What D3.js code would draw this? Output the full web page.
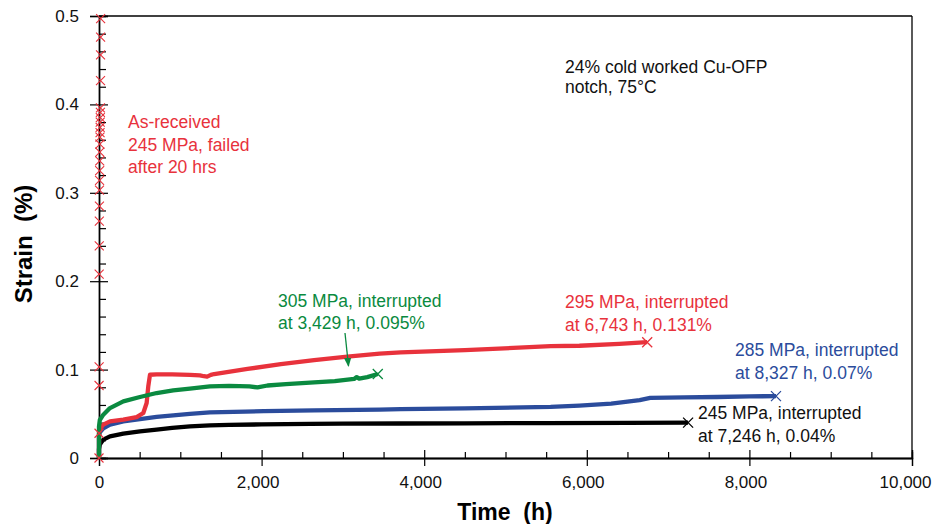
<!DOCTYPE html>
<html>
<head>
<meta charset="utf-8">
<script src="https://cdn.jsdelivr.net/npm/d3@7"></script>
<style>
  body { margin: 0; background: #fff; }
  svg { font-family: "Liberation Sans", Arial, sans-serif; }
  .ann { font-size: 17.5px; }
</style>
</head>
<body>
<div id="chart"></div>
<script>
// tick values
const xMajorTicks = [0, 2000, 4000, 6000, 8000, 10000];
const xMinorTicks = d3.range(0, 10001, 500).filter(d => d % 2000 !== 0);
const yMajorTicks = [0, 0.1, 0.2, 0.3, 0.4, 0.5];
const yMinorTicks = d3.range(0, 0.5001, 0.02).filter(d => Math.round(d * 100) % 10 !== 0);

// as-received, 245 MPa, failed after 20 h (markers only)
const asRecTime = [0, 0.5, 1, 1.5, 2, 3, 4, 5, 6, 7, 8, 9, 10, 11, 12, 13, 14, 15, 16, 17, 17.5, 18.5, 19, 19.5, 20];
const asRecStrain = [0, 0.028, 0.082, 0.103, 0.208, 0.240, 0.268, 0.285, 0.303, 0.314, 0.325, 0.336, 0.346,
                     0.355, 0.363, 0.368, 0.374, 0.380, 0.385, 0.391, 0.396, 0.427, 0.456, 0.476, 0.497];

// 245 MPa, interrupted at 7,246 h
const t245 = [0, 0, 10, 30, 53, 135, 299, 504, 709, 900, 1118, 1364, 1600, 2000, 2600, 3000, 3700, 4500, 5500, 6500, 7246];
const s245 = [0, 0.010, 0.015, 0.018, 0.0207, 0.0245, 0.0275, 0.030, 0.032, 0.034, 0.0357, 0.037, 0.0375, 0.038,
              0.0385, 0.0388, 0.039, 0.0392, 0.0395, 0.0398, 0.040];

// 285 MPa, interrupted at 8,327 h
const t285 = [0, 0, 10, 53, 135, 299, 504, 709, 1118, 1364, 1800, 2028, 2646, 3452, 3712, 4500, 5555, 5909, 6300,
              6650, 6780, 7200, 7603, 8000, 8327];
const s285 = [0, 0.0245, 0.029, 0.0336, 0.0377, 0.0414, 0.0441, 0.0464, 0.0498, 0.0516, 0.0525, 0.053, 0.0538,
              0.0548, 0.0552, 0.0562, 0.0578, 0.0592, 0.0615, 0.0655, 0.068, 0.0685, 0.069, 0.0697, 0.070];

// 295 MPa, interrupted at 6,743 h
const t295 = [0, 0, 10, 53, 135, 299, 463, 545, 586, 606, 627, 709, 900, 1118, 1241, 1290, 1330, 1376, 1417, 1827,
              2237, 2646, 3056, 3452, 3712, 4500, 5555, 5909, 6400, 6743];
const s295 = [0, 0.028, 0.033, 0.0377, 0.0414, 0.0433, 0.0463, 0.0509, 0.0622, 0.081, 0.0942, 0.0945, 0.0945,
              0.094, 0.0935, 0.0925, 0.092, 0.094, 0.095, 0.1007, 0.1063, 0.1108, 0.1146, 0.118, 0.1195, 0.122,
              0.1265, 0.127, 0.129, 0.131];

// 305 MPa, interrupted at 3,429 h
const t305 = [0, 0, 10, 53, 135, 299, 504, 709, 913, 1118, 1364, 1600, 1850, 1950, 2073, 2300, 2646, 2900, 3138,
              3170, 3200, 3300, 3429];
const s305 = [0, 0.0357, 0.043, 0.049, 0.0565, 0.064, 0.069, 0.0735, 0.0765, 0.0785, 0.081, 0.0815, 0.081, 0.0798,
              0.082, 0.0835, 0.0855, 0.087, 0.0894, 0.0915, 0.0898, 0.0915, 0.095];

const RED = "#e8323c", GREEN = "#0a8a40", BLUE = "#2b4c9c", BLACK = "#000";

const series = [
    {t: t245, s: s245, color: BLACK},
    {t: t285, s: s285, color: BLUE},
    {t: t295, s: s295, color: RED},
    {t: t305, s: s305, color: GREEN}
];

const width = 932, height = 524;
const svg = d3.select("#chart").append("svg")
    .attr("width", width)
    .attr("height", height);

const x = d3.scaleLinear().domain([0, 10000]).range([99, 912]);
const y = d3.scaleLinear().domain([0, 0.5]).range([458, 16]);

// frame (top and right)
svg.append("line").attr("x1", x(0)).attr("x2", x(10000)).attr("y1", y(0.5)).attr("y2", y(0.5))
    .attr("stroke", "#000").attr("stroke-width", 1.3);
svg.append("line").attr("x1", x(10000)).attr("x2", x(10000)).attr("y1", y(0.5)).attr("y2", y(0))
    .attr("stroke", "#000").attr("stroke-width", 1.3);

function styleAxis(g) {
    g.select(".domain").attr("stroke-width", 1.3);
    g.selectAll(".tick line").attr("stroke-width", 1.2);
    g.selectAll("text").attr("font-size", 17).attr("font-family", "Liberation Sans, Arial, sans-serif").attr("fill", "#111");
}

// x axis: major ticks crossing, minor ticks inside
svg.append("g").attr("transform", `translate(0,${y(0)})`)
    .call(d3.axisBottom(x).tickValues(xMajorTicks).tickSize(8).tickPadding(10)
        .tickFormat(d => d === 0 ? "0" : d3.format(",")(d)))
    .call(styleAxis)
    .call(g => g.selectAll(".tick text").attr("dx", d => d === 0 ? 0 : d === 10000 ? -7 : -4));
svg.append("g").attr("transform", `translate(0,${y(0)})`)
    .call(d3.axisTop(x).tickValues(xMajorTicks).tickSize(8).tickFormat(""))
    .call(styleAxis);
svg.append("g").attr("transform", `translate(0,${y(0)})`)
    .call(d3.axisTop(x).tickValues(xMinorTicks).tickSize(6).tickFormat(""))
    .call(styleAxis);

// y axis
svg.append("g").attr("transform", `translate(${x(0)},0)`)
    .call(d3.axisLeft(y).tickValues(yMajorTicks).tickSize(9).tickPadding(11)
        .tickFormat(d => d === 0 ? "0" : d3.format(".1f")(d)))
    .call(styleAxis);
svg.append("g").attr("transform", `translate(${x(0)},0)`)
    .call(d3.axisRight(y).tickValues(yMajorTicks).tickSize(9).tickFormat(""))
    .call(styleAxis);
svg.append("g").attr("transform", `translate(${x(0)},0)`)
    .call(d3.axisRight(y).tickValues(yMinorTicks).tickSize(7).tickFormat(""))
    .call(styleAxis);

// axis titles
svg.append("text")
    .attr("x", 505).attr("y", 520)
    .attr("text-anchor", "middle")
    .attr("font-size", 23).attr("font-weight", "bold")
    .style("white-space", "pre")
    .text("Time  (h)");
svg.append("text")
    .attr("transform", "translate(32,244) rotate(-90)")
    .attr("text-anchor", "middle")
    .attr("font-size", 24).attr("font-weight", "bold")
    .style("white-space", "pre")
    .text("Strain  (%)");

// curves
const line = d3.line()
    .x(d => x(d[0]))
    .y(d => y(d[1]));

const crossPath = r => `M${-r},${-r}L${r},${r}M${-r},${r}L${r},${-r}`;

series.forEach(sr => {
    const pts = sr.t.map((t, i) => [t, sr.s[i]]);
    svg.append("path")
        .datum(pts)
        .attr("d", line)
        .attr("fill", "none")
        .attr("stroke", sr.color)
        .attr("stroke-width", 4.3)
        .attr("stroke-linejoin", "round");
    const last = pts[pts.length - 1];
    svg.append("path")
        .attr("transform", `translate(${x(last[0])},${y(last[1])})`)
        .attr("d", crossPath(5))
        .attr("stroke", sr.color)
        .attr("stroke-width", 1.3)
        .attr("fill", "none");
});

// as-received markers
svg.append("g")
    .selectAll("path")
    .data(asRecTime.map((t, i) => [t, asRecStrain[i]]))
    .join("path")
    .attr("transform", d => `translate(${x(d[0])},${y(d[1])})`)
    .attr("d", crossPath(4.5))
    .attr("stroke", RED)
    .attr("stroke-width", 1.1)
    .attr("fill", "none");

// annotations
function annotate(lines, xPos, yPos, color, spacing) {
    const t = svg.append("text").attr("class", "ann").attr("fill", color);
    lines.forEach((s, i) => {
        t.append("tspan").attr("x", xPos).attr("y", yPos + i * spacing).text(s);
    });
}

annotate(["24% cold worked Cu-OFP", "notch, 75°C"], 565, 73, "#111", 19.5);
annotate(["As-received", "245 MPa, failed", "after 20 hrs"], 128, 128, RED, 22.5);
annotate(["305 MPa, interrupted", "at 3,429 h, 0.095%"], 278, 307, GREEN, 22);
annotate(["295 MPa, interrupted", "at 6,743 h, 0.131%"], 565, 308, RED, 22.5);
annotate(["285 MPa, interrupted", "at 8,327 h, 0.07%"], 735, 356, BLUE, 22.5);
annotate(["245 MPa, interrupted", "at 7,246 h, 0.04%"], 698, 419, "#111", 22.5);

// arrow for the 305 MPa label
svg.append("defs").append("marker")
    .attr("id", "arrowG")
    .attr("viewBox", "0 0 10 10")
    .attr("refX", 9).attr("refY", 5)
    .attr("markerWidth", 7).attr("markerHeight", 7)
    .attr("orient", "auto")
    .append("path")
    .attr("d", "M0,1L10,5L0,9Z")
    .attr("fill", GREEN);
svg.append("line")
    .attr("x1", 345).attr("y1", 333)
    .attr("x2", 348.5).attr("y2", 366)
    .attr("stroke", GREEN).attr("stroke-width", 1.3)
    .attr("marker-end", "url(#arrowG)");
</script>
</body>
</html>
